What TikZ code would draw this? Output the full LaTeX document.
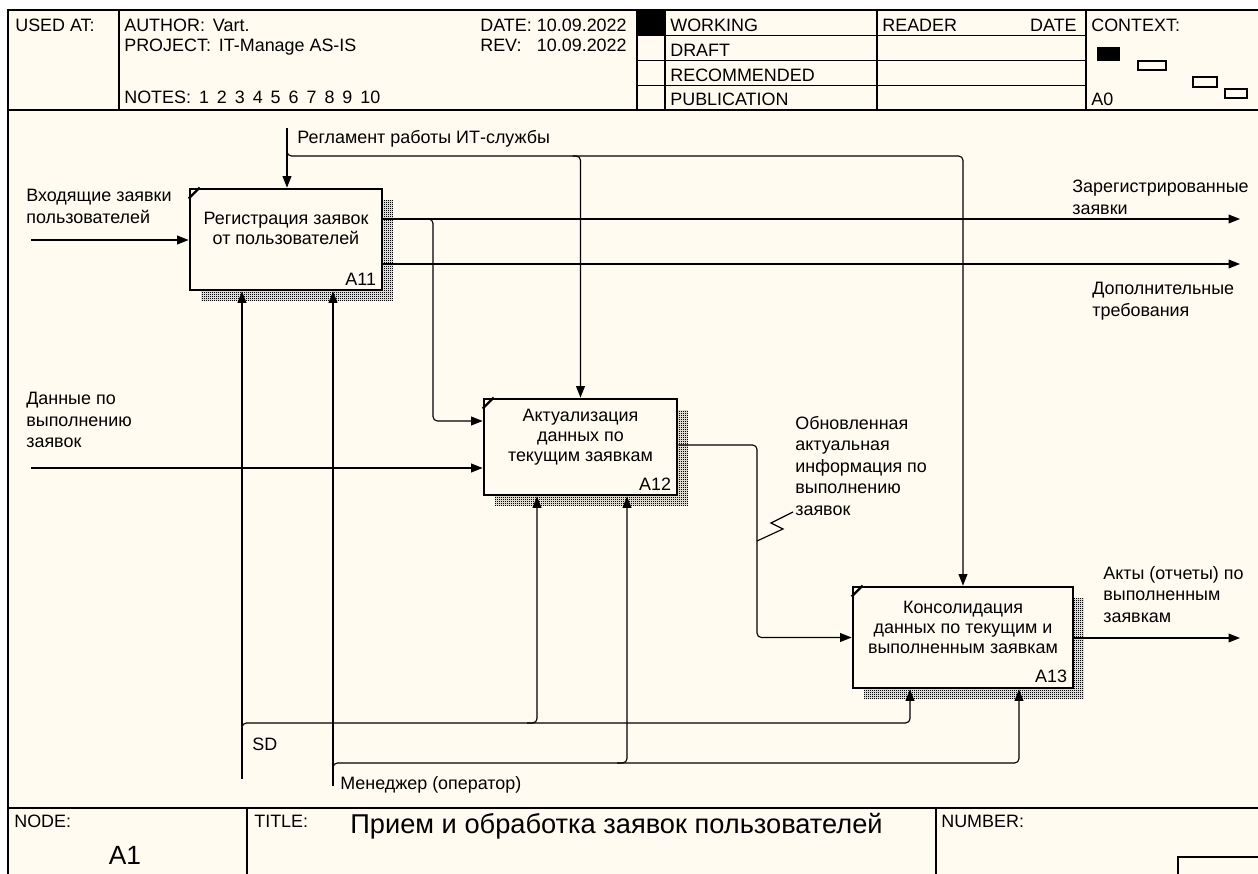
\documentclass[tikz,border=0pt]{standalone}
\usepackage{fontspec}
\setmainfont{Liberation Sans}
\usetikzlibrary{arrows.meta,calc,shadows,patterns.meta}

\definecolor{paper}{RGB}{255,251,240}

% fine checker used for the box shadows
\tikzdeclarepattern{
  name=idefshade,
  type=uncolored,
  bottom left={(0pt,0pt)},
  top right={(1.2pt,1.2pt)},
  tile size={(1.2pt,1.2pt)},
  code={
    \fill (0pt,0pt) rectangle (0.72pt,0.72pt);
    \fill (0.6pt,0.6pt) rectangle (1.2pt,1.2pt);
  }
}

\tikzset{
  frameln/.style={line width=1pt},
  fnbox/.style={draw, line width=1.6pt, fill=paper, inner sep=0pt,
    general shadow={shadow xshift=0.22cm, shadow yshift=-0.22cm,
      pattern=idefshade, pattern color=black}},
  tick/.style={line width=1.3pt},
  boxtxt/.style={inner sep=0pt, align=center,
    font=\fontsize{10.2pt}{11.4pt}\selectfont},
  boxid/.style={anchor=south east, inner sep=0pt},
  lbl/.style={anchor=north west, inner sep=0pt, align=left,
    font=\fontsize{10.2pt}{12.2pt}\selectfont},
  hd/.style={anchor=base west, inner sep=0pt},
  hdr/.style={anchor=base east, inner sep=0pt},
  conn/.style={line width=0.65pt, rounded corners=2.5pt},
  arr/.style={conn, -{Triangle[length=6.5pt,width=5pt]}},
}

\begin{document}
\begin{tikzpicture}[x=0.02cm, y=-0.02cm,
  font=\fontsize{10.2pt}{12.2pt}\selectfont]
\useasboundingbox (0,0) rectangle (1258,874);
\clip (0,0) rectangle (1258,874);

% sheet
\fill[paper] (8,10) rectangle (1280,890);
\draw[frameln] (1280,10) -- (8,10) -- (8,890);
\draw[frameln] (8,110) -- (1280,110);
\draw[frameln] (8,808) -- (1280,808);

% header grid
\draw[frameln] (119,10) -- (119,110);
\draw[frameln] (637,10) -- (637,110);
\draw[frameln] (665,10) -- (665,110);
\draw[frameln] (877,10) -- (877,110);
\draw[frameln] (1086,10) -- (1086,110);
\draw[frameln] (637,35.5) -- (1086,35.5);
\draw[frameln] (637,60.5) -- (1086,60.5);
\draw[frameln] (637,85.5) -- (1086,85.5);
\fill (637,10) rectangle (665,35.5);

% header texts
\node[hd] (usedat) at (15,32) {USED AT:};
\node[hd] (author) at (124,32) {AUTHOR:\, Vart.};
\node[hd] (project) at (124,52) {PROJECT:\, IT-Manage AS-IS};
\node[hd] (notes) at (124,104) {NOTES:\, 1\, 2\, 3\, 4\, 5\, 6\, 7\, 8\, 9\, 10};
\node[hd] (datek) at (480,32) {DATE:};
\node[hdr] (datev) at (627,32) {10.09.2022};
\node[hd] (revk) at (480,52) {REV:};
\node[hdr] (revv) at (627,52) {10.09.2022};
\node[hd] (working) at (670,32) {WORKING};
\node[hd] (draft) at (670,57) {DRAFT};
\node[hd] (recomm) at (670,82) {RECOMMENDED};
\node[hd] (public) at (670,106) {PUBLICATION};
\node[hd] (reader) at (882,32) {READER};
\node[hdr] (rdate) at (1077,32) {DATE};
\node[hd] (context) at (1091,32) {CONTEXT:};
\node[hd] (ctxnode) at (1091,106) {A0};

% context thumbnail
\filldraw[line width=0.7pt] (1098,48) rectangle (1119,60);
\draw[line width=0.7pt] (1138,61) rectangle (1166,70);
\draw[line width=0.7pt] (1193,77) rectangle (1217,87);
\draw[line width=0.7pt] (1225,89) rectangle (1247,98);

% function boxes
\node[fnbox, minimum width=3.84cm, minimum height=2.02cm] (a11) at (286,239.5) {};
\node[fnbox, minimum width=3.86cm, minimum height=1.92cm] (a12) at (580.5,447) {};
\node[fnbox, minimum width=4.40cm, minimum height=2.02cm] (a13) at (963,637.5) {};

\foreach \b in {a11,a12,a13}
  \draw[tick] ([shift={(0,11)}]\b.north west) -- ([shift={(11,0)}]\b.north west);

\node[boxtxt] (a11t) at ([shift={(0,-11)}]a11.center) {Регистрация заявок\\от пользователей};
\node[boxtxt] (a12t) at ([shift={(0,-10)}]a12.center) {Актуализация\\данных по\\текущим заявкам};
\node[boxtxt] (a13t) at ([shift={(0,-10)}]a13.center) {Консолидация\\данных по текущим и\\выполненным заявкам};

\node[boxid] (a11id) at ([shift={(-7,-6)}]a11.south east) {A11};
\node[boxid] (a12id) at ([shift={(-7,-6)}]a12.south east) {A12};
\node[boxid] (a13id) at ([shift={(-7,-6)}]a13.south east) {A13};

% inputs
\coordinate (in1) at (31,240);
\coordinate (in2) at (31,468);
\draw[arr] (in1) -- (in1 -| a11.west);
\draw[arr] (in2) -- (in2 -| a12.west);
\node[lbl] (in1l) at (26,189) {Входящие заявки\\пользователей};
\node[lbl] (in2l) at (26,392) {Данные по\\выполнению\\заявок};

% control
\coordinate (ctl) at (287,128);
\coordinate (ctlh) at (287,156);
\draw[arr] (ctl) -- (ctl |- a11.north);
\draw[arr] ([shift={(0,-8)}]ctlh) -- (ctlh) -- (ctlh -| a13.north) -- (a13.north);
\draw[arr] ([shift={(-8,0)}]ctlh -| a12.north) -- (ctlh -| a12.north) -- (a12.north);
\node[lbl] (ctll) at (297,130) {Регламент работы ИТ-службы};

% outputs of A11
\coordinate (o1) at (1240,219);
\coordinate (o2) at (1240,264);
\coordinate (fb) at (433,421);
\draw[arr] (o1 -| a11.east) -- (o1);
\draw[arr] (o2 -| a11.east) -- (o2);
\draw[arr] ([shift={(-8,0)}]fb |- o1) -- (fb |- o1) -- (fb) -- (fb -| a12.west);
\node[lbl] (o1l) at (1072,180) {Зарегистрированные\\заявки};
\node[lbl] (o2l) at (1092,282) {Дополнительные\\требования};

% A12 to A13
\coordinate (ub) at (757,445);
\draw[arr] (ub -| a12.east) -- (ub) -- (ub |- a13.west) -- (a13.west);
\coordinate (sq) at (757,541);
\draw[line width=0.65pt] (sq) -- ++(26,-12) -- ++(-12,-6) -- ++(22,-11);
\node[lbl] (ubl) at (795,416) {Обновленная\\актуальная\\информация по\\выполнению\\заявок};

% output of A13
\coordinate (o3) at (1240,638);
\draw[arr] (o3 -| a13.east) -- (o3);
\node[lbl] (o3l) at (1103,566) {Акты (отчеты) по\\выполненным\\заявкам};

% mechanism SD
\coordinate (sd) at (242,779);
\coordinate (sdh) at (242,723);
\coordinate (sdx) at (910,723);
\coordinate (sdb) at (537,723);
\draw[arr] (sd) -- (sd |- a11.south);
\draw[arr] ([shift={(0,10)}]sdh) -- (sdh) -- (sdx) -- (sdx |- a13.south);
\draw[arr] ([shift={(-10,0)}]sdb) -- (sdb) -- (sdb |- a12.south);
\node[lbl] (sdl) at (252,738) {SD};

% mechanism manager
\coordinate (mg) at (333,786);
\coordinate (mgh) at (333,763);
\coordinate (mgx) at (1019,763);
\coordinate (mgb) at (627,763);
\draw[arr] (mg) -- (mg |- a11.south);
\draw[arr] ([shift={(0,10)}]mgh) -- (mgh) -- (mgx) -- (mgx |- a13.south);
\draw[arr] ([shift={(-10,0)}]mgb) -- (mgb) -- (mgb |- a12.south);
\node[lbl] (mgl) at (340,776) {Менеджер (оператор)};

% footer
\draw[frameln] (247,808) -- (247,890);
\draw[frameln] (936,808) -- (936,890);
\draw[frameln] (1178,890) -- (1178,857) -- (1280,857);
\node[hd] (nodek) at (14,827) {NODE:};
\node[hd] (titlek) at (254,827) {TITLE:};
\node[hd] (numberk) at (941,827) {NUMBER:};
\node[anchor=base, inner sep=0pt, font=\fontsize{15pt}{18pt}\selectfont] (nodev) at (125,864) {A1};
\node[hd, font=\fontsize{15.5pt}{18pt}\selectfont] (title) at (350,833) {Прием и обработка заявок пользователей};
\end{tikzpicture}
\end{document}
